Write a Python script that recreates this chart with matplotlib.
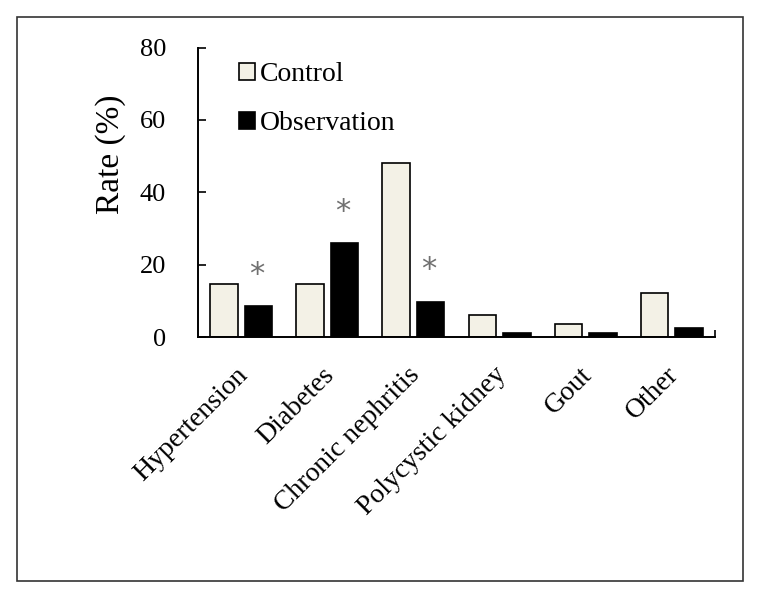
import numpy as np
import matplotlib.pyplot as plt
from matplotlib.patches import Rectangle
from matplotlib.transforms import ScaledTranslation

categories = ["Hypertension", "Diabetes", "Chronic nephritis",
              "Polycystic kidney", "Gout", "Other"]
control = [14.8, 14.8, 48.1, 6.2, 3.7, 12.3]
observation = [8.7, 26.1, 9.8, 1.3, 1.2, 2.6]
# significance marks: (category index, height)
stars = [(0, 17.3), (1, 34.7), (2, 18.7)]

plt.rcParams['font.family'] = ['Liberation Serif', 'DejaVu Serif']

fig = plt.figure(figsize=(7.59, 5.94), dpi=100)
ax = fig.add_axes([0.261, 0.432, 0.681, 0.488])

x = np.arange(len(categories))
w = 0.32
ax.bar(x - 0.2, control, w, color='#f3f1e6', edgecolor='black', linewidth=1.2,
       label='Control')
ax.bar(x + 0.2, observation, w, color='black', edgecolor='black', linewidth=1.2,
       label='Observation')

for i, h in stars:
    ax.text(i + 0.2 - 0.02, h, '*', ha='center', va='center', fontsize=22,
            color='#707070', fontfamily='DejaVu Sans')

ax.set_xlim(-0.5, 5.5)
ax.set_ylim(0, 80)
ax.set_yticks([0, 20, 40, 60, 80])
ax.tick_params(axis='y', direction='in', length=6, width=1.2, labelsize=19, pad=23)
ax.set_xticks(x)
ax.set_xticklabels(categories, rotation=45, ha='right', rotation_mode='anchor',
                   fontsize=20)
ax.tick_params(axis='x', which='major', length=0, pad=18)
# nudge the slanted labels a little to the left
shift = ScaledTranslation(-0.06, 0, fig.dpi_scale_trans)
for lab in ax.get_xticklabels():
    lab.set_transform(lab.get_transform() + shift)
ax.set_xticks([5.5], minor=True)
ax.tick_params(axis='x', which='minor', direction='in', length=5, width=1.2)

ax.set_ylabel('Rate (%)', fontsize=24)
ax.yaxis.set_label_coords(-0.139, 0.633)

ax.spines['top'].set_visible(False)
ax.spines['right'].set_visible(False)
ax.spines['left'].set_linewidth(1.4)
ax.spines['bottom'].set_linewidth(1.4)

ax.legend(loc='upper left', bbox_to_anchor=(0.03, 1.035), frameon=False,
          fontsize=20, handlelength=0.6, handleheight=0.6, handletextpad=0.15,
          labelspacing=0.86)

# outer frame
fig.patches.append(Rectangle((17 / 759, 1 - 581 / 594), 726 / 759, 564 / 594,
                             transform=fig.transFigure, fill=False,
                             edgecolor='#333333', linewidth=1.2))

fig.savefig('out.png', dpi=100)
